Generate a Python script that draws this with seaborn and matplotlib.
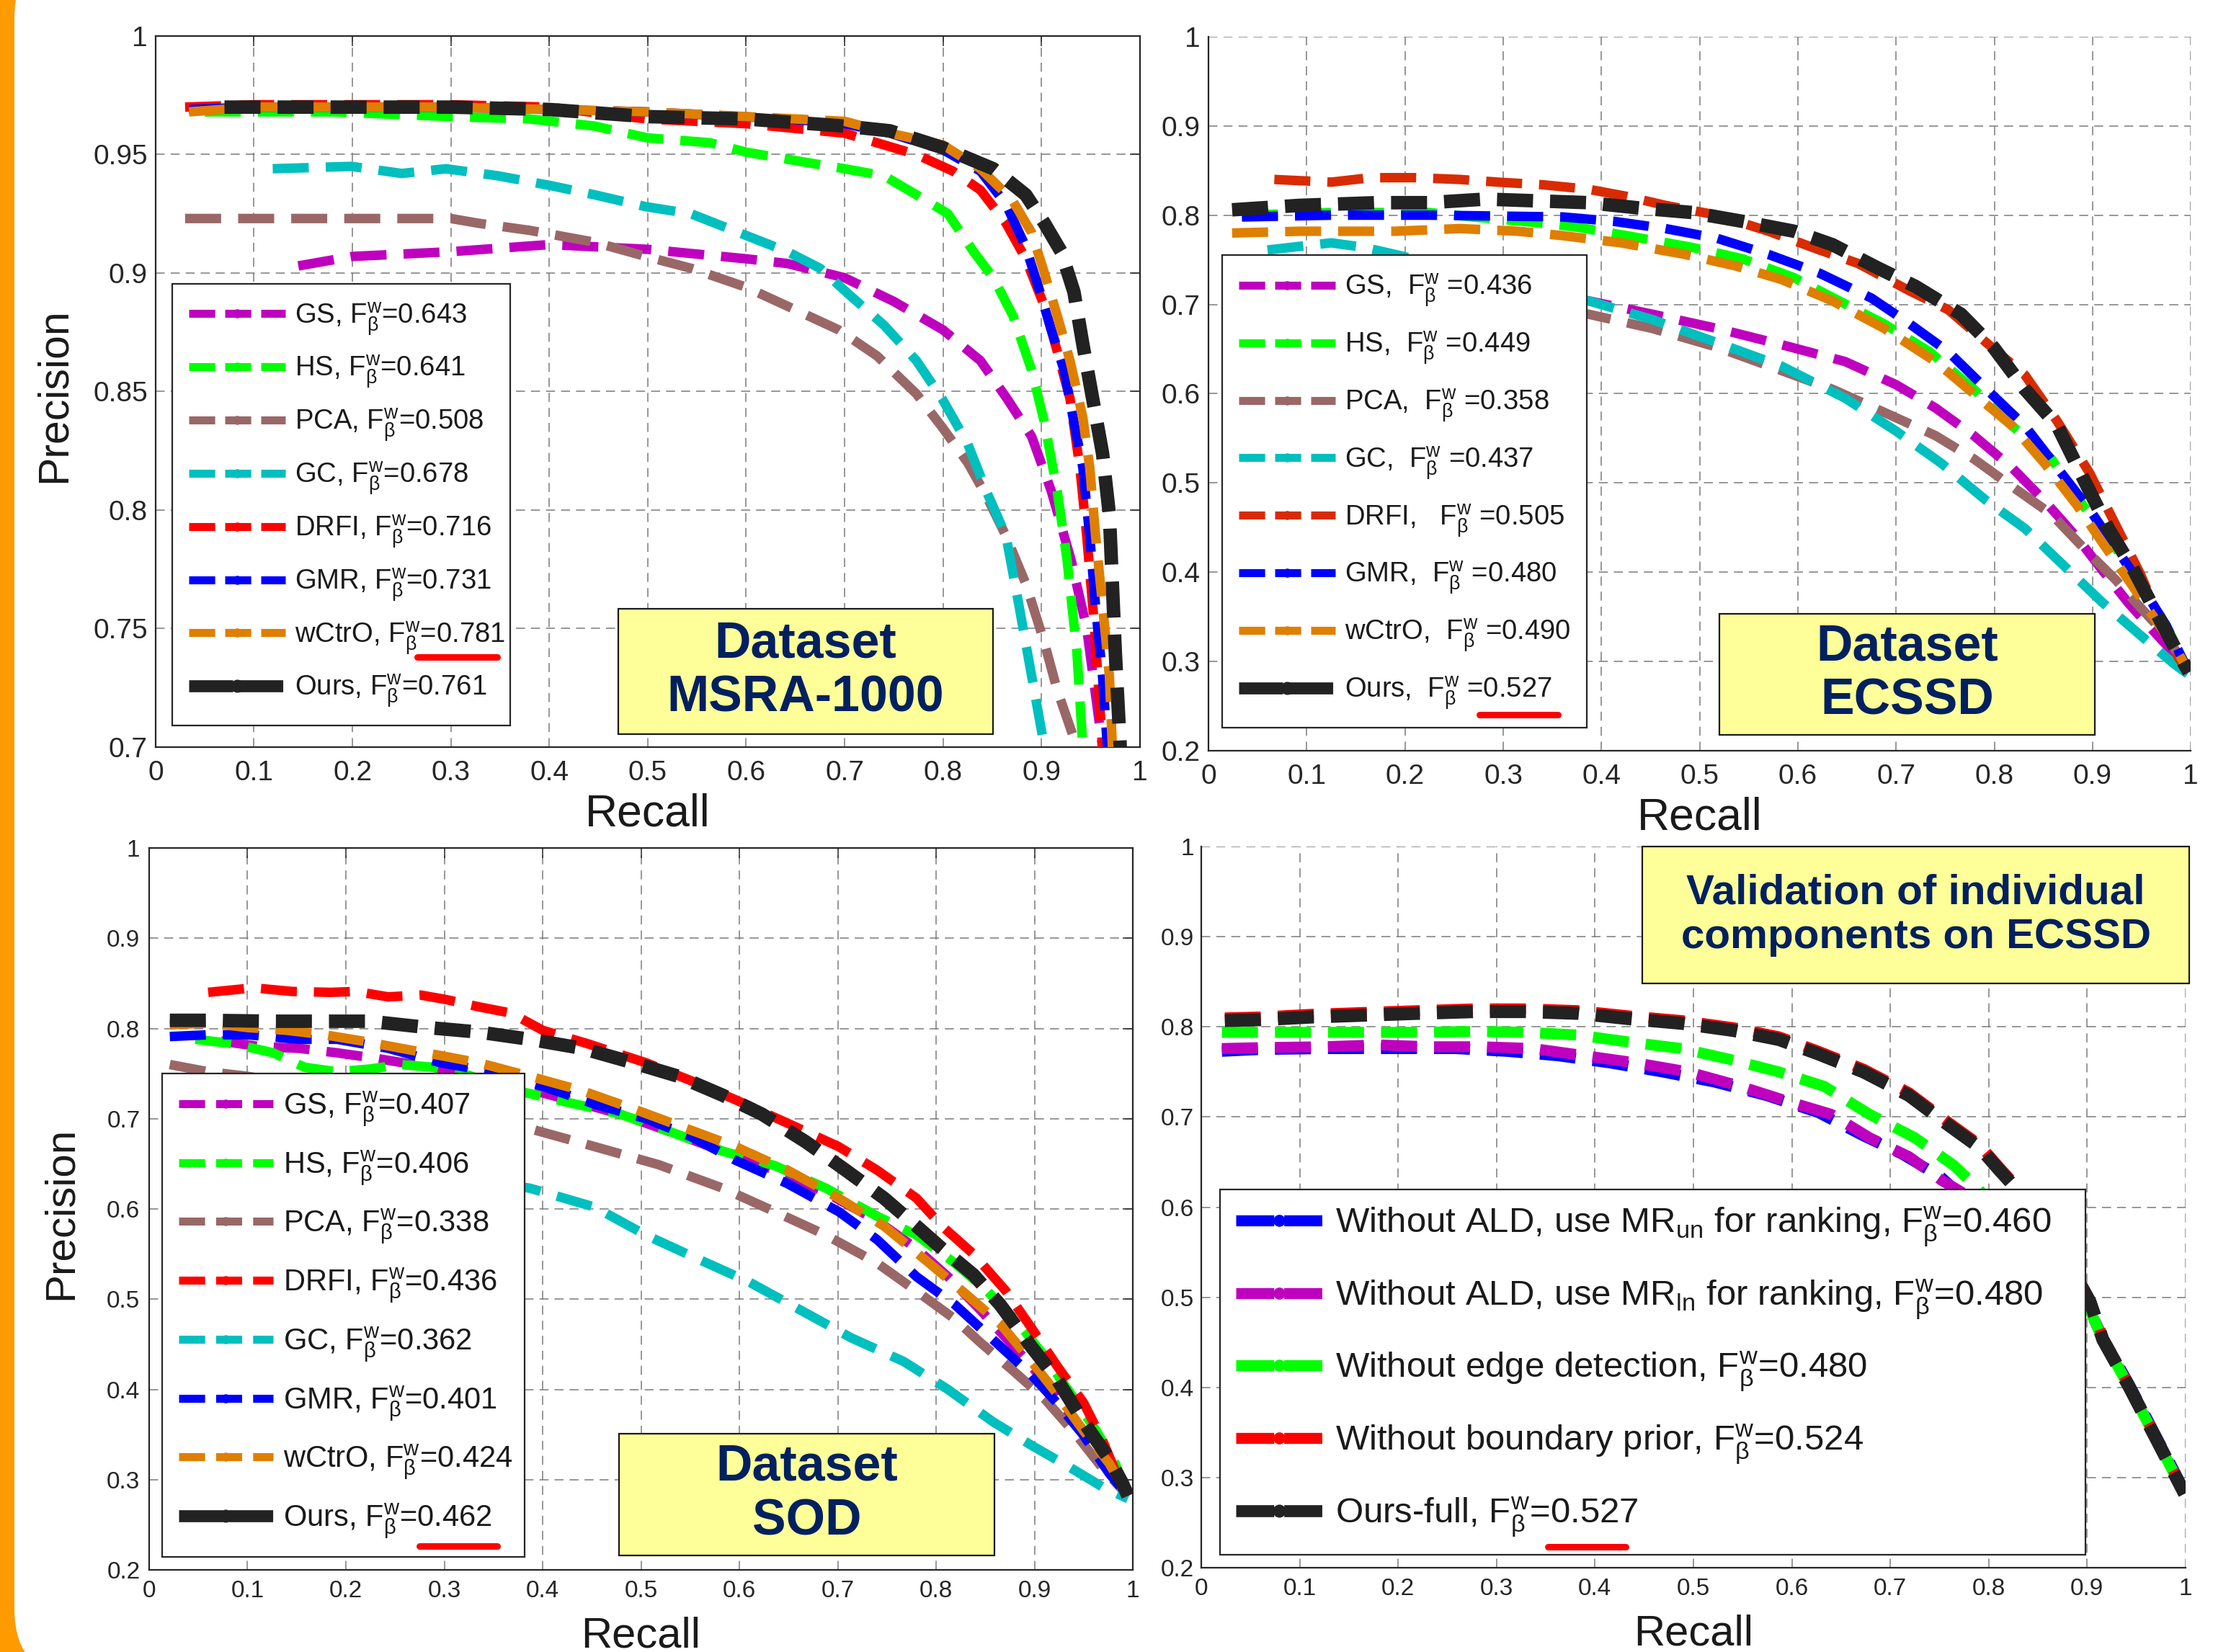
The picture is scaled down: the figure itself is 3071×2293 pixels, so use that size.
import matplotlib as mpl
mpl.use("Agg")
import matplotlib.pyplot as plt
import matplotlib.font_manager as fm
from matplotlib.font_manager import FontProperties
from matplotlib.lines import Line2D
from matplotlib.patches import Rectangle, FancyBboxPatch
import seaborn as sns

# ---------------- data ----------------
# MSRA-1000 (top left)
MSRA_GS_R = [0.145, 0.20, 0.30, 0.40, 0.50, 0.60, 0.642, 0.70, 0.75, 0.80, 0.838, 0.865, 0.89, 0.91, 0.93, 0.946, 0.962]
MSRA_GS_P = [0.903, 0.907, 0.909, 0.912, 0.910, 0.906, 0.904, 0.898, 0.888, 0.876, 0.863, 0.847, 0.831, 0.808, 0.779, 0.750, 0.700]
MSRA_HS_R = [0.05, 0.18, 0.30, 0.38, 0.446, 0.50, 0.563, 0.60, 0.642, 0.70, 0.74, 0.773, 0.805, 0.831, 0.851, 0.871, 0.89, 0.903, 0.916, 0.926, 0.936, 0.942]
MSRA_HS_P = [0.968, 0.968, 0.966, 0.965, 0.962, 0.957, 0.955, 0.951, 0.948, 0.944, 0.941, 0.933, 0.925, 0.909, 0.898, 0.882, 0.859, 0.837, 0.808, 0.779, 0.740, 0.700]
MSRA_PCA_R = [0.03, 0.10, 0.20, 0.30, 0.328, 0.38, 0.446, 0.498, 0.544, 0.60, 0.642, 0.694, 0.733, 0.773, 0.799, 0.825, 0.844, 0.864, 0.884, 0.903, 0.916, 0.936]
MSRA_PCA_P = [0.923, 0.923, 0.923, 0.923, 0.921, 0.918, 0.913, 0.907, 0.902, 0.894, 0.886, 0.876, 0.865, 0.849, 0.835, 0.820, 0.806, 0.789, 0.769, 0.744, 0.724, 0.700]
MSRA_GC_R = [0.119, 0.199, 0.250, 0.295, 0.348, 0.400, 0.446, 0.498, 0.544, 0.599, 0.642, 0.675, 0.707, 0.740, 0.773, 0.799, 0.825, 0.844, 0.864, 0.877, 0.890, 0.903]
MSRA_GC_P = [0.944, 0.945, 0.942, 0.944, 0.941, 0.937, 0.933, 0.928, 0.925, 0.916, 0.909, 0.902, 0.890, 0.878, 0.863, 0.847, 0.828, 0.808, 0.789, 0.760, 0.730, 0.700]
MSRA_DRFI_R = [0.03, 0.10, 0.20, 0.30, 0.40, 0.499, 0.60, 0.70, 0.773, 0.81, 0.838, 0.864, 0.884, 0.903, 0.916, 0.929, 0.939, 0.946, 0.954, 0.962]
MSRA_DRFI_P = [0.970, 0.971, 0.971, 0.971, 0.970, 0.965, 0.963, 0.959, 0.950, 0.943, 0.935, 0.921, 0.906, 0.886, 0.867, 0.847, 0.818, 0.789, 0.750, 0.700]
MSRA_GMR_R = [0.034, 0.10, 0.20, 0.30, 0.40, 0.499, 0.642, 0.70, 0.746, 0.80, 0.838, 0.864, 0.884, 0.897, 0.910, 0.923, 0.933, 0.942, 0.949, 0.955, 0.962, 0.967]
MSRA_GMR_P = [0.969, 0.970, 0.970, 0.970, 0.969, 0.968, 0.965, 0.963, 0.959, 0.952, 0.943, 0.929, 0.911, 0.894, 0.876, 0.859, 0.837, 0.818, 0.789, 0.759, 0.730, 0.700]
MSRA_WCTRO_R = [0.034, 0.10, 0.20, 0.30, 0.40, 0.50, 0.60, 0.70, 0.746, 0.80, 0.838, 0.87, 0.89, 0.903, 0.916, 0.929, 0.942, 0.949, 0.955, 0.962, 0.969, 0.972]
MSRA_WCTRO_P = [0.968, 0.970, 0.970, 0.970, 0.969, 0.968, 0.966, 0.964, 0.959, 0.954, 0.944, 0.931, 0.917, 0.900, 0.882, 0.863, 0.839, 0.818, 0.789, 0.760, 0.730, 0.700]
MSRA_OURS_R = [0.07, 0.10, 0.20, 0.30, 0.40, 0.499, 0.60, 0.70, 0.746, 0.799, 0.851, 0.884, 0.903, 0.920, 0.933, 0.942, 0.952, 0.962, 0.969, 0.972, 0.975, 0.980]
MSRA_OURS_P = [0.970, 0.970, 0.970, 0.970, 0.969, 0.966, 0.965, 0.962, 0.960, 0.953, 0.944, 0.933, 0.921, 0.909, 0.892, 0.870, 0.847, 0.824, 0.798, 0.769, 0.740, 0.700]

# ECSSD (top right)
ECSSD_GS_R = [0.05, 0.15, 0.25, 0.32, 0.387, 0.452, 0.518, 0.583, 0.648, 0.70, 0.74, 0.779, 0.818, 0.851, 0.884, 0.91, 0.936, 0.962, 0.988, 0.998]
ECSSD_GS_P = [0.725, 0.722, 0.717, 0.711, 0.704, 0.689, 0.673, 0.655, 0.636, 0.610, 0.584, 0.553, 0.517, 0.480, 0.439, 0.402, 0.366, 0.334, 0.303, 0.288]
ECSSD_HS_R = [0.034, 0.125, 0.224, 0.269, 0.322, 0.373, 0.426, 0.492, 0.544, 0.596, 0.642, 0.688, 0.734, 0.779, 0.818, 0.858, 0.89, 0.923, 0.949, 0.975, 0.998]
ECSSD_HS_P = [0.800, 0.803, 0.803, 0.798, 0.793, 0.787, 0.777, 0.764, 0.751, 0.730, 0.704, 0.678, 0.647, 0.605, 0.564, 0.527, 0.475, 0.428, 0.386, 0.340, 0.288]
ECSSD_PCA_R = [0.05, 0.15, 0.25, 0.32, 0.387, 0.452, 0.518, 0.583, 0.635, 0.688, 0.74, 0.779, 0.818, 0.858, 0.89, 0.923, 0.949, 0.975, 0.998]
ECSSD_PCA_P = [0.715, 0.710, 0.704, 0.697, 0.689, 0.673, 0.652, 0.626, 0.605, 0.579, 0.553, 0.527, 0.496, 0.465, 0.428, 0.392, 0.360, 0.329, 0.288]
ECSSD_GC_R = [0.06, 0.125, 0.158, 0.19, 0.25, 0.32, 0.387, 0.452, 0.518, 0.583, 0.648, 0.70, 0.746, 0.792, 0.831, 0.871, 0.91, 0.949, 0.982, 0.998]
ECSSD_GC_P = [0.761, 0.769, 0.764, 0.756, 0.740, 0.722, 0.704, 0.683, 0.657, 0.631, 0.595, 0.558, 0.522, 0.480, 0.449, 0.407, 0.366, 0.329, 0.298, 0.285]
ECSSD_DRFI_R = [0.067, 0.125, 0.165, 0.21, 0.256, 0.295, 0.341, 0.387, 0.426, 0.465, 0.518, 0.57, 0.622, 0.661, 0.714, 0.753, 0.792, 0.831, 0.864, 0.897, 0.923, 0.949, 0.969, 0.988, 0.998]
ECSSD_DRFI_P = [0.840, 0.837, 0.842, 0.842, 0.840, 0.837, 0.834, 0.829, 0.821, 0.811, 0.800, 0.782, 0.761, 0.746, 0.715, 0.694, 0.657, 0.621, 0.569, 0.511, 0.454, 0.397, 0.345, 0.303, 0.288]
ECSSD_GMR_R = [0.034, 0.125, 0.224, 0.295, 0.361, 0.413, 0.465, 0.518, 0.57, 0.622, 0.675, 0.714, 0.753, 0.792, 0.831, 0.864, 0.897, 0.923, 0.949, 0.975, 0.998]
ECSSD_GMR_P = [0.798, 0.800, 0.800, 0.799, 0.798, 0.793, 0.785, 0.774, 0.756, 0.735, 0.707, 0.678, 0.647, 0.605, 0.564, 0.517, 0.470, 0.428, 0.386, 0.340, 0.288]
ECSSD_WCTRO_R = [0.024, 0.093, 0.19, 0.256, 0.315, 0.361, 0.42, 0.485, 0.537, 0.583, 0.635, 0.688, 0.74, 0.779, 0.818, 0.851, 0.884, 0.91, 0.936, 0.962, 0.988, 0.998]
ECSSD_WCTRO_P = [0.780, 0.782, 0.782, 0.785, 0.782, 0.777, 0.769, 0.756, 0.743, 0.728, 0.704, 0.673, 0.636, 0.600, 0.564, 0.522, 0.475, 0.433, 0.392, 0.350, 0.308, 0.288]
ECSSD_OURS_R = [0.024, 0.093, 0.171, 0.224, 0.282, 0.335, 0.387, 0.439, 0.492, 0.544, 0.596, 0.635, 0.681, 0.72, 0.766, 0.799, 0.831, 0.864, 0.89, 0.916, 0.942, 0.962, 0.982, 0.998]
ECSSD_OURS_P = [0.806, 0.811, 0.814, 0.814, 0.818, 0.816, 0.814, 0.808, 0.803, 0.793, 0.782, 0.767, 0.741, 0.720, 0.689, 0.652, 0.605, 0.564, 0.506, 0.449, 0.402, 0.360, 0.319, 0.288]

# SOD (bottom left)
SOD_GS_R = [0.073, 0.112, 0.152, 0.191, 0.23, 0.269, 0.322, 0.374, 0.426, 0.479, 0.531, 0.583, 0.636, 0.688, 0.74, 0.78, 0.812, 0.845, 0.871, 0.897, 0.923, 0.95, 0.969, 0.995]
SOD_GS_P = [0.786, 0.780, 0.778, 0.773, 0.767, 0.760, 0.752, 0.736, 0.721, 0.705, 0.685, 0.664, 0.643, 0.618, 0.587, 0.556, 0.525, 0.488, 0.457, 0.426, 0.390, 0.354, 0.318, 0.282]
SOD_HS_R = [0.047, 0.086, 0.126, 0.158, 0.191, 0.224, 0.256, 0.289, 0.322, 0.374, 0.426, 0.479, 0.531, 0.583, 0.636, 0.688, 0.74, 0.78, 0.819, 0.852, 0.884, 0.91, 0.937, 0.963, 0.982, 0.995]
SOD_HS_P = [0.788, 0.783, 0.773, 0.757, 0.752, 0.755, 0.760, 0.757, 0.749, 0.731, 0.718, 0.705, 0.685, 0.664, 0.648, 0.623, 0.592, 0.571, 0.540, 0.509, 0.473, 0.437, 0.395, 0.354, 0.318, 0.282]
SOD_PCA_R = [0.021, 0.06, 0.10, 0.20, 0.30, 0.36, 0.40, 0.453, 0.518, 0.583, 0.636, 0.688, 0.74, 0.78, 0.819, 0.845, 0.878, 0.91, 0.943, 0.969, 0.995]
SOD_PCA_P = [0.760, 0.752, 0.747, 0.728, 0.710, 0.697, 0.685, 0.669, 0.649, 0.623, 0.597, 0.571, 0.540, 0.509, 0.478, 0.452, 0.421, 0.390, 0.349, 0.313, 0.282]
SOD_DRFI_R = [0.06, 0.106, 0.145, 0.184, 0.21, 0.243, 0.276, 0.302, 0.335, 0.368, 0.40, 0.446, 0.505, 0.551, 0.596, 0.649, 0.701, 0.74, 0.78, 0.806, 0.838, 0.871, 0.897, 0.923, 0.95, 0.969, 0.989, 0.995]
SOD_DRFI_P = [0.840, 0.845, 0.841, 0.840, 0.841, 0.835, 0.837, 0.832, 0.824, 0.817, 0.798, 0.783, 0.762, 0.742, 0.721, 0.695, 0.669, 0.643, 0.612, 0.581, 0.550, 0.509, 0.468, 0.426, 0.385, 0.344, 0.292, 0.282]
SOD_GC_R = [0.05, 0.15, 0.25, 0.344, 0.387, 0.453, 0.505, 0.557, 0.61, 0.662, 0.714, 0.767, 0.812, 0.858, 0.897, 0.937, 0.969, 0.995]
SOD_GC_P = [0.720, 0.690, 0.660, 0.630, 0.623, 0.602, 0.571, 0.545, 0.519, 0.488, 0.457, 0.431, 0.400, 0.364, 0.338, 0.313, 0.292, 0.279]
SOD_GMR_R = [0.021, 0.06, 0.10, 0.152, 0.191, 0.243, 0.296, 0.348, 0.40, 0.453, 0.505, 0.551, 0.596, 0.649, 0.701, 0.74, 0.78, 0.819, 0.845, 0.871, 0.897, 0.923, 0.95, 0.976, 0.995]
SOD_GMR_P = [0.791, 0.793, 0.793, 0.788, 0.788, 0.778, 0.762, 0.752, 0.736, 0.716, 0.700, 0.680, 0.654, 0.628, 0.597, 0.566, 0.525, 0.494, 0.468, 0.442, 0.416, 0.385, 0.349, 0.307, 0.282]
SOD_WCTRO_R = [0.021, 0.06, 0.10, 0.139, 0.178, 0.217, 0.256, 0.296, 0.335, 0.387, 0.44, 0.492, 0.544, 0.596, 0.649, 0.701, 0.747, 0.793, 0.832, 0.865, 0.897, 0.923, 0.95, 0.976, 0.995]
SOD_WCTRO_P = [0.804, 0.806, 0.801, 0.798, 0.793, 0.786, 0.778, 0.770, 0.762, 0.747, 0.731, 0.711, 0.690, 0.669, 0.643, 0.612, 0.581, 0.540, 0.504, 0.473, 0.431, 0.395, 0.354, 0.318, 0.282]
SOD_OURS_R = [0.021, 0.06, 0.126, 0.178, 0.224, 0.283, 0.335, 0.387, 0.44, 0.492, 0.538, 0.583, 0.623, 0.668, 0.708, 0.747, 0.78, 0.806, 0.838, 0.865, 0.897, 0.923, 0.95, 0.976, 0.989, 0.995]
SOD_OURS_P = [0.809, 0.809, 0.808, 0.808, 0.808, 0.801, 0.796, 0.788, 0.778, 0.762, 0.747, 0.726, 0.705, 0.674, 0.643, 0.612, 0.581, 0.556, 0.527, 0.494, 0.447, 0.411, 0.364, 0.323, 0.297, 0.282]

# Validation of components on ECSSD (bottom right)
VAL_UN_R = [0.021, 0.06, 0.126, 0.191, 0.258, 0.31, 0.363, 0.416, 0.469, 0.521, 0.574, 0.627, 0.673, 0.712, 0.752, 0.765, 0.81, 0.86, 0.90, 0.916, 0.943, 0.962, 0.982, 0.999]
VAL_UN_P = [0.773, 0.775, 0.776, 0.776, 0.776, 0.773, 0.768, 0.760, 0.750, 0.739, 0.724, 0.705, 0.679, 0.659, 0.633, 0.620, 0.575, 0.530, 0.492, 0.455, 0.403, 0.363, 0.321, 0.285]
VAL_LN_R = [0.021, 0.06, 0.126, 0.179, 0.232, 0.284, 0.337, 0.39, 0.442, 0.495, 0.548, 0.594, 0.64, 0.679, 0.719, 0.752, 0.772, 0.81, 0.86, 0.90, 0.916, 0.943, 0.962, 0.982, 0.999]
VAL_LN_P = [0.776, 0.777, 0.778, 0.780, 0.778, 0.778, 0.776, 0.768, 0.760, 0.750, 0.734, 0.718, 0.703, 0.677, 0.656, 0.630, 0.617, 0.575, 0.530, 0.492, 0.454, 0.401, 0.361, 0.319, 0.283]
VAL_EDGE_R = [0.021, 0.06, 0.113, 0.166, 0.225, 0.278, 0.33, 0.383, 0.436, 0.488, 0.541, 0.587, 0.633, 0.679, 0.725, 0.765, 0.785, 0.82, 0.86, 0.90, 0.916, 0.943, 0.962, 0.982, 0.999]
VAL_EDGE_P = [0.794, 0.794, 0.794, 0.794, 0.794, 0.795, 0.794, 0.791, 0.783, 0.776, 0.763, 0.750, 0.734, 0.703, 0.677, 0.646, 0.625, 0.585, 0.540, 0.493, 0.453, 0.400, 0.360, 0.318, 0.282]
VAL_BOUND_R = [0.024, 0.06, 0.113, 0.166, 0.219, 0.278, 0.33, 0.383, 0.436, 0.488, 0.541, 0.587, 0.627, 0.673, 0.719, 0.758, 0.791, 0.811, 0.831, 0.855, 0.88, 0.903, 0.916, 0.943, 0.962, 0.982, 0.999]
VAL_BOUND_P = [0.810, 0.811, 0.814, 0.816, 0.818, 0.820, 0.820, 0.818, 0.812, 0.807, 0.799, 0.789, 0.773, 0.753, 0.727, 0.695, 0.669, 0.644, 0.620, 0.583, 0.543, 0.497, 0.455, 0.402, 0.362, 0.320, 0.284]
VAL_FULL_R = [0.024, 0.06, 0.113, 0.166, 0.219, 0.278, 0.33, 0.383, 0.436, 0.488, 0.541, 0.587, 0.627, 0.673, 0.719, 0.758, 0.791, 0.811, 0.831, 0.855, 0.88, 0.903, 0.916, 0.943, 0.962, 0.982, 0.999]
VAL_FULL_P = [0.807, 0.808, 0.811, 0.813, 0.815, 0.817, 0.817, 0.815, 0.809, 0.804, 0.796, 0.786, 0.770, 0.750, 0.724, 0.692, 0.666, 0.641, 0.617, 0.580, 0.540, 0.495, 0.453, 0.400, 0.360, 0.318, 0.282]

FW = r"F$^{\mathrm{w}}_{\mathrm{\beta}}$"
MSRA_LABELS = ["GS, " + FW + "=0.643", "HS, " + FW + "=0.641", "PCA, " + FW + "=0.508",
               "GC, " + FW + "=0.678", "DRFI, " + FW + "=0.716", "GMR, " + FW + "=0.731",
               "wCtrO, " + FW + "=0.781", "Ours, " + FW + "=0.761"]
ECSSD_LABELS = ["GS,  " + FW + " =0.436", "HS,  " + FW + " =0.449", "PCA,  " + FW + " =0.358",
                "GC,  " + FW + " =0.437", "DRFI,   " + FW + " =0.505", "GMR,  " + FW + " =0.480",
                "wCtrO,  " + FW + " =0.490", "Ours,  " + FW + " =0.527"]
SOD_LABELS = ["GS, " + FW + "=0.407", "HS, " + FW + "=0.406", "PCA, " + FW + "=0.338",
              "DRFI, " + FW + "=0.436", "GC, " + FW + "=0.362", "GMR, " + FW + "=0.401",
              "wCtrO, " + FW + "=0.424", "Ours, " + FW + "=0.462"]
VAL_LABELS = [r"Without ALD, use MR$_{\mathrm{un}}$ for ranking, " + FW + "=0.460",
              r"Without ALD, use MR$_{\mathrm{ln}}$ for ranking, " + FW + "=0.480",
              "Without edge detection, " + FW + "=0.480",
              "Without boundary prior, " + FW + "=0.524",
              "Ours-full, " + FW + "=0.527"]

X_TICKS = [0, 0.1, 0.2, 0.3, 0.4, 0.5, 0.6, 0.7, 0.8, 0.9, 1]
MSRA_Y_TICKS = [0.7, 0.75, 0.8, 0.85, 0.9, 0.95, 1]
Y_TICKS = [0.2, 0.3, 0.4, 0.5, 0.6, 0.7, 0.8, 0.9, 1]

# colours
C_GS = "#BF00BF"
C_HS = "#00FF00"
C_PCA = "#9A6767"
C_GC = "#00BFBF"
C_DRFI = "#FF0000"
C_DRFI2 = "#D92B00"
C_GMR = "#0000FF"
C_WCTRO = "#DF7F00"
C_OURS = "#222222"
NAVY = "#002060"
AX_COL = "#262626"

# ---------------- style ----------------
sns.set_theme(style="white")
plt.rcParams["font.family"] = ["Liberation Sans", "DejaVu Sans"]
plt.rcParams["mathtext.fontset"] = "custom"
plt.rcParams["mathtext.rm"] = "Liberation Sans"
plt.rcParams["mathtext.it"] = "Liberation Sans:italic"
plt.rcParams["mathtext.bf"] = "Liberation Sans:bold"
plt.rcParams["lines.scale_dashes"] = False

names = {f.name for f in fm.fontManager.ttflist}
HAS_NARROW = "Liberation Sans Narrow" in names
NARROW = ["Liberation Sans Narrow", "Liberation Sans", "DejaVu Sans"] if HAS_NARROW else ["Liberation Sans", "DejaVu Sans"]
NS = 1.0 if HAS_NARROW else 0.84   # shrink sizes when no condensed face
REG = ["Liberation Sans", "DejaVu Sans"]

DASH = (0, (36, 17))

fig = plt.figure(figsize=(30.71, 22.93), dpi=100)
fig.patch.set_facecolor("#FF9A00")
fig.add_artist(FancyBboxPatch((0.20, -0.36), 31.0, 24.0, boxstyle="round,pad=0,rounding_size=0.96",
                              transform=fig.dpi_scale_trans, facecolor="white", edgecolor="none", zorder=-5))


def setup_axes(ax, yticks, ylim, box_on, fam, tsize, xpad, ypad):
    ax.set_facecolor("white")
    ax.set_xlim(0, 1)
    ax.set_ylim(*ylim)
    ax.set_xticks(X_TICKS)
    ax.set_xticklabels(["%g" % t for t in X_TICKS])
    ax.set_yticks(yticks)
    ax.set_yticklabels(["%g" % t for t in yticks])
    ax.grid(True, linestyle=(0, (9, 6)), color="#7a7a7a", linewidth=1.1)
    ax.set_axisbelow(True)
    for side in ["left", "bottom", "top", "right"]:
        ax.spines[side].set_color(AX_COL)
        ax.spines[side].set_linewidth(1.6)
        if side in ("top", "right"):
            ax.spines[side].set_visible(box_on)
    ax.tick_params(axis="both", direction="in", length=10, width=1.1, color=AX_COL,
                   labelcolor=AX_COL, labelsize=tsize, top=box_on, right=box_on)
    ax.tick_params(axis="x", pad=xpad)
    ax.tick_params(axis="y", pad=ypad)
    for lab in ax.get_xticklabels() + ax.get_yticklabels():
        lab.set_fontfamily(fam)


def draw_curves(ax, curves):
    for r, p, color, lw in curves:
        sns.lineplot(x=r, y=p, ax=ax, color=color, linewidth=lw, linestyle=DASH,
                     sort=False, estimator=None, legend=False, zorder=3)


def add_legend(ax, colors, labels, bbox, fam, size, spacing, hlen, dash_c, dash_k, lw_c, lw_k, ms_c, ms_k, borderpad):
    handles = []
    for c in colors:
        is_k = c == C_OURS
        handles.append(Line2D([], [], color=c, linewidth=lw_k if is_k else lw_c,
                              linestyle=dash_k if is_k else dash_c, marker="o",
                              markersize=ms_k if is_k else ms_c, markerfacecolor=c, markeredgecolor=c))
    leg = ax.legend(handles, labels, loc="lower left", bbox_to_anchor=bbox, mode="expand",
                    frameon=True, fancybox=False, framealpha=1, edgecolor=AX_COL,
                    prop=FontProperties(family=fam, size=size), labelspacing=spacing,
                    handlelength=hlen, handletextpad=0.35, borderpad=borderpad, borderaxespad=0)
    leg.get_frame().set_linewidth(1.6)
    leg.set_zorder(8)
    for t in leg.get_texts():
        t.set_color("#1a1a1a")
    return leg


def underline(ax, x0, x1, y):
    ax.add_line(Line2D([x0, x1], [y, y], transform=ax.transAxes, color="#FF0000", linewidth=6.5,
                       solid_capstyle="round", zorder=12, clip_on=False))


def note_box(ax, x0, x1, y0, y1, text, fam, size):
    ax.add_patch(Rectangle((x0, y0), x1 - x0, y1 - y0, transform=ax.transAxes, facecolor="#FFFF99",
                           edgecolor="#1a1a1a", linewidth=1.6, zorder=6, clip_on=False))
    ax.text((x0 + x1) / 2, (y0 + y1) / 2, text, transform=ax.transAxes, ha="center", va="center",
            color=NAVY, fontweight="bold", family=fam, fontsize=size, linespacing=1.18, zorder=7)


# ---------------- top left: MSRA-1000 ----------------
ax1 = fig.add_axes([0.0703, 0.5478, 0.4448, 0.4304])
setup_axes(ax1, MSRA_Y_TICKS, (0.7, 1.0), True, REG, 28, 13, 8)
draw_curves(ax1, [(MSRA_GS_R, MSRA_GS_P, C_GS, 9.5), (MSRA_HS_R, MSRA_HS_P, C_HS, 9.5),
                  (MSRA_PCA_R, MSRA_PCA_P, C_PCA, 9.5), (MSRA_GC_R, MSRA_GC_P, C_GC, 9.5),
                  (MSRA_DRFI_R, MSRA_DRFI_P, C_DRFI, 9.5), (MSRA_GMR_R, MSRA_GMR_P, C_GMR, 9.5),
                  (MSRA_WCTRO_R, MSRA_WCTRO_P, C_WCTRO, 9.5), (MSRA_OURS_R, MSRA_OURS_P, C_OURS, 13.5)])
add_legend(ax1, [C_GS, C_HS, C_PCA, C_GC, C_DRFI, C_GMR, C_WCTRO, C_OURS], MSRA_LABELS,
           (0.017, 0.03, 0.343, 0.0), REG, 27.5, 0.6, 3.5, (0, (26, 10)), (0, (44, 6)), 8, 12, 8, 12, 0.6)
underline(ax1, 0.266, 0.347, 0.127)
note_box(ax1, 0.47, 0.851, 0.018, 0.194, "Dataset\nMSRA-1000", NARROW, 60 * NS)
ax1.set_xlabel("Recall", fontsize=45, family=REG, color="#1a1a1a")
ax1.xaxis.set_label_coords(0.5, -0.064)
ax1.set_ylabel("Precision", fontsize=42.5, family=REG, color="#1a1a1a")
ax1.yaxis.set_label_coords(-0.083, 0.495)

# ---------------- top right: ECSSD ----------------
ax2 = fig.add_axes([0.5461, 0.5456, 0.4439, 0.4322])
setup_axes(ax2, Y_TICKS, (0.2, 1.0), False, REG, 28, 13, 8)
draw_curves(ax2, [(ECSSD_GS_R, ECSSD_GS_P, C_GS, 9.5), (ECSSD_HS_R, ECSSD_HS_P, C_HS, 9.5),
                  (ECSSD_PCA_R, ECSSD_PCA_P, C_PCA, 9.5), (ECSSD_GC_R, ECSSD_GC_P, C_GC, 9.5),
                  (ECSSD_DRFI_R, ECSSD_DRFI_P, C_DRFI2, 9.5), (ECSSD_GMR_R, ECSSD_GMR_P, C_GMR, 9.5),
                  (ECSSD_WCTRO_R, ECSSD_WCTRO_P, C_WCTRO, 9.5), (ECSSD_OURS_R, ECSSD_OURS_P, C_OURS, 13.5)])
add_legend(ax2, [C_GS, C_HS, C_PCA, C_GC, C_DRFI2, C_GMR, C_WCTRO, C_OURS], ECSSD_LABELS,
           (0.014, 0.032, 0.371, 0.0), REG, 27.5, 0.76, 3.5, (0, (26, 10)), (0, (44, 6)), 8, 12, 8, 12, 0.6)
underline(ax2, 0.276, 0.356, 0.05)
note_box(ax2, 0.52, 0.902, 0.022, 0.192, "Dataset\nECSSD", NARROW, 60 * NS)
ax2.set_xlabel("Recall", fontsize=45, family=REG, color="#1a1a1a")
ax2.xaxis.set_label_coords(0.5, -0.064)

# ---------------- bottom left: SOD ----------------
ax3 = fig.add_axes([0.0674, 0.0497, 0.4445, 0.4370])
setup_axes(ax3, Y_TICKS, (0.2, 1.0), True, NARROW, 24, 10, 9)
draw_curves(ax3, [(SOD_GS_R, SOD_GS_P, C_GS, 9.5), (SOD_HS_R, SOD_HS_P, C_HS, 9.5),
                  (SOD_PCA_R, SOD_PCA_P, C_PCA, 9.5), (SOD_DRFI_R, SOD_DRFI_P, C_DRFI, 9.5),
                  (SOD_GC_R, SOD_GC_P, C_GC, 9.5), (SOD_GMR_R, SOD_GMR_P, C_GMR, 9.5),
                  (SOD_WCTRO_R, SOD_WCTRO_P, C_WCTRO, 9.5), (SOD_OURS_R, SOD_OURS_P, C_OURS, 13.5)])
add_legend(ax3, [C_GS, C_HS, C_PCA, C_DRFI, C_GC, C_GMR, C_WCTRO, C_OURS], SOD_LABELS,
           (0.013, 0.018, 0.369, 0.0), NARROW, 30, 0.68, 3.15, (0, (26, 11)), (0, (44, 6)), 8, 12, 8, 12, 0.55)
underline(ax3, 0.275, 0.354, 0.033)
note_box(ax3, 0.478, 0.859, 0.0195, 0.189, "Dataset\nSOD", NARROW, 60 * NS)
ax3.set_xlabel("Recall", fontsize=43, family=NARROW, color="#1a1a1a")
ax3.xaxis.set_label_coords(0.5, -0.064)
ax3.set_ylabel("Precision", fontsize=42, family=NARROW, color="#1a1a1a")
ax3.yaxis.set_label_coords(-0.07, 0.494)

# ---------------- bottom right: component validation ----------------
ax4 = fig.add_axes([0.5428, 0.0510, 0.4448, 0.4365])
setup_axes(ax4, Y_TICKS, (0.2, 1.0), False, NARROW, 24, 10, 7)
draw_curves(ax4, [(VAL_UN_R, VAL_UN_P, C_GMR, 11), (VAL_LN_R, VAL_LN_P, C_GS, 11),
                  (VAL_EDGE_R, VAL_EDGE_P, C_HS, 11), (VAL_BOUND_R, VAL_BOUND_P, C_DRFI, 11),
                  (VAL_FULL_R, VAL_FULL_P, C_OURS, 13)])
add_legend(ax4, [C_GMR, C_GS, C_HS, C_DRFI, C_OURS], VAL_LABELS,
           (0.019, 0.018, 0.879, 0.0), NARROW, 35.4, 0.82, 2.46, (0, (38, 10)), (0, (38, 10)), 11, 12, 11, 12, 0.45)
underline(ax4, 0.352, 0.431, 0.029)
note_box(ax4, 0.448, 1.004, 0.81, 1.0, "Validation of individual\ncomponents on ECSSD", NARROW, 42)
ax4.set_xlabel("Recall", fontsize=43, family=NARROW, color="#1a1a1a")
ax4.xaxis.set_label_coords(0.5, -0.064)

fig.savefig("out.png", dpi=100, facecolor=fig.get_facecolor())
